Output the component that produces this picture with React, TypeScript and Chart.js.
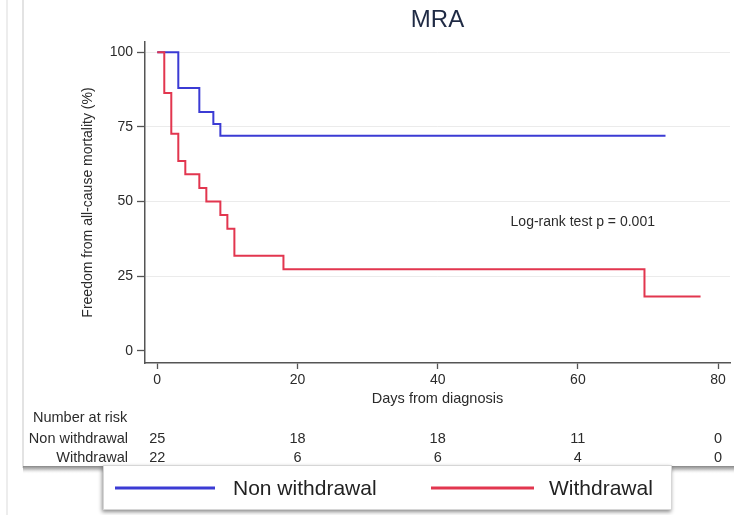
import React, { useEffect, useRef } from 'react';
import { Chart, registerables } from 'chart.js';

Chart.register(...registerables);

const chartTitle = 'MRA';
const groupNames = ['Non withdrawal', 'Withdrawal'];
const nonWithdrawalDays = [0, 3, 6, 8, 9, 72.5];
const nonWithdrawalSurvival = [100, 88, 80, 76, 72, 72];
const withdrawalDays = [0, 1, 2, 3, 4, 6, 7, 9, 10, 11, 18, 69.5, 77.5];
const withdrawalSurvival = [100, 86.4, 72.7, 63.6, 59.1, 54.5, 50, 45.5, 40.9, 31.8, 27.3, 18.2, 18.2];
const xTicks = [0, 20, 40, 60, 80];
const yTicks = [0, 25, 50, 75, 100];
const riskTimes = [0, 20, 40, 60, 80];
const nonWithdrawalAtRisk = [25, 18, 18, 11, 0];
const withdrawalAtRisk = [22, 6, 6, 4, 0];
const logRankText = 'Log-rank test p = 0.001';
const xTitle = 'Days from diagnosis';
const yTitle = 'Freedom from all-cause mortality (%)';
const riskHeader = 'Number at risk';

const FONT = "'Liberation Sans', Arial, Helvetica, sans-serif";
const BLUE = '#3b3bd4';
const RED = '#e2364f';
const TEXT = '#2b2b2b';

const W = 734;
const H = 515;

const decorPlugin = {
  id: 'decor',
  beforeDraw(chart: any) {
    const ctx = chart.ctx as CanvasRenderingContext2D;
    ctx.save();
    ctx.fillStyle = '#ffffff';
    ctx.fillRect(0, 0, W, H);
    // faint outer frame lines
    ctx.fillStyle = '#ededed';
    ctx.fillRect(6, 0, 2, H);
    ctx.fillStyle = '#e3e3e3';
    ctx.fillRect(22, 0, 2, 468);
    // main panel bottom shadow
    const g = ctx.createLinearGradient(0, 466, 0, 474);
    g.addColorStop(0, 'rgba(120,120,120,0.9)');
    g.addColorStop(0.4, 'rgba(150,150,150,0.6)');
    g.addColorStop(1, 'rgba(255,255,255,0)');
    ctx.fillStyle = g;
    ctx.fillRect(23, 466, W - 23, 8);
    ctx.restore();
  },
  afterDraw(chart: any) {
    const ctx = chart.ctx as CanvasRenderingContext2D;
    const xs = chart.scales.x;
    const ys = chart.scales.y;
    ctx.save();
    // log-rank annotation
    ctx.fillStyle = TEXT;
    ctx.font = `14px ${FONT}`;
    ctx.textAlign = 'left';
    ctx.textBaseline = 'middle';
    ctx.fillText(logRankText, xs.getPixelForValue(50.4), ys.getPixelForValue(43.2));

    // number at risk table
    ctx.font = `14.5px ${FONT}`;
    ctx.textAlign = 'left';
    ctx.fillText(riskHeader, 33, 418);
    ctx.textAlign = 'right';
    ctx.fillText(groupNames[0], 128, 439);
    ctx.fillText(groupNames[1], 128, 458);
    ctx.textAlign = 'center';
    riskTimes.forEach((t, i) => {
      const px = xs.getPixelForValue(t);
      ctx.fillText(String(nonWithdrawalAtRisk[i]), px, 439);
      ctx.fillText(String(withdrawalAtRisk[i]), px, 458);
    });

    // legend box
    ctx.save();
    ctx.shadowColor = 'rgba(0,0,0,0.45)';
    ctx.shadowBlur = 4;
    ctx.shadowOffsetX = -1;
    ctx.shadowOffsetY = 2;
    ctx.fillStyle = '#ffffff';
    ctx.fillRect(103, 465, 569, 45);
    ctx.restore();
    ctx.strokeStyle = '#d6d6d6';
    ctx.lineWidth = 1;
    ctx.strokeRect(103.5, 465.5, 568, 44);

    ctx.lineWidth = 3;
    ctx.strokeStyle = BLUE;
    ctx.beginPath();
    ctx.moveTo(115, 488);
    ctx.lineTo(215, 488);
    ctx.stroke();
    ctx.strokeStyle = RED;
    ctx.beginPath();
    ctx.moveTo(431, 488);
    ctx.lineTo(534, 488);
    ctx.stroke();
    ctx.fillStyle = '#222';
    ctx.font = `21px ${FONT}`;
    ctx.textAlign = 'left';
    ctx.textBaseline = 'middle';
    ctx.fillText(groupNames[0], 233, 489);
    ctx.fillText(groupNames[1], 549, 489);
    ctx.restore();
  },
};

export default function App() {
  const ref = useRef<HTMLCanvasElement | null>(null);

  useEffect(() => {
    if (!ref.current) return;
    Chart.defaults.font.family = FONT;
    const chart = new Chart(ref.current, {
      type: 'line',
      data: {
        datasets: [
          {
            label: groupNames[0],
            data: nonWithdrawalDays.map((d, i) => ({ x: d, y: nonWithdrawalSurvival[i] })),
            borderColor: BLUE,
            borderWidth: 2,
            pointRadius: 0,
            stepped: 'before',
            fill: false,
            order: 1,
          },
          {
            label: groupNames[1],
            data: withdrawalDays.map((d, i) => ({ x: d, y: withdrawalSurvival[i] })),
            borderColor: RED,
            borderWidth: 2,
            pointRadius: 0,
            stepped: 'before',
            fill: false,
            order: 0,
          },
        ],
      },
      options: {
        responsive: false,
        animation: false,
        devicePixelRatio: 1,
        layout: { padding: { left: 0, right: 4, top: 0, bottom: 0 } },
        plugins: {
          legend: { display: false },
          tooltip: { enabled: false },
          title: {
            display: true,
            text: chartTitle,
            fullSize: false,
            color: '#1f2a44',
            font: { size: 24, weight: 'normal', family: FONT },
            padding: { top: 5.6, bottom: 7.6 },
          },
        },
        scales: {
          x: {
            type: 'linear',
            min: -1.75,
            max: 81.7,
            afterBuildTicks: (s: any) => {
              s.ticks = xTicks.map((v) => ({ value: v }));
            },
            afterFit: (s: any) => {
              s.height = H - 363;
            },
            ticks: { color: TEXT, font: { size: 14 }, padding: 3, maxRotation: 0 },
            grid: { drawOnChartArea: false, drawTicks: true, tickLength: 6, tickColor: '#555', tickWidth: 1.3 },
            border: { color: '#555', width: 1.5 },
            title: {
              display: true,
              text: xTitle,
              color: TEXT,
              font: { size: 14.5 },
              padding: { top: 0, bottom: 107 },
            },
          },
          y: {
            type: 'linear',
            min: -4.12,
            max: 103.45,
            afterBuildTicks: (s: any) => {
              s.ticks = yTicks.map((v) => ({ value: v }));
            },
            afterFit: (s: any) => {
              s.width = 145;
            },
            ticks: { color: TEXT, font: { size: 14 }, padding: 4 },
            grid: {
              drawOnChartArea: true,
              drawTicks: true,
              tickLength: 8,
              tickColor: '#555',
              tickWidth: 1.3,
              color: (c: any) => (c.tick && c.tick.value === 0 ? 'rgba(0,0,0,0)' : '#ebebeb'),
              lineWidth: 1,
            },
            border: { color: '#555', width: 1.5 },
            title: {
              display: true,
              text: yTitle,
              color: TEXT,
              font: { size: 14 },
              padding: { top: 80, bottom: 0 },
            },
          },
        },
      },
      plugins: [decorPlugin],
    } as any);
    return () => chart.destroy();
  }, []);

  return (
    <div style={{ position: 'absolute', left: 0, top: 0, width: W, height: H, background: '#fff' }}>
      <canvas ref={ref} width={W} height={H} style={{ width: W, height: H, display: 'block' }} />
    </div>
  );
}
